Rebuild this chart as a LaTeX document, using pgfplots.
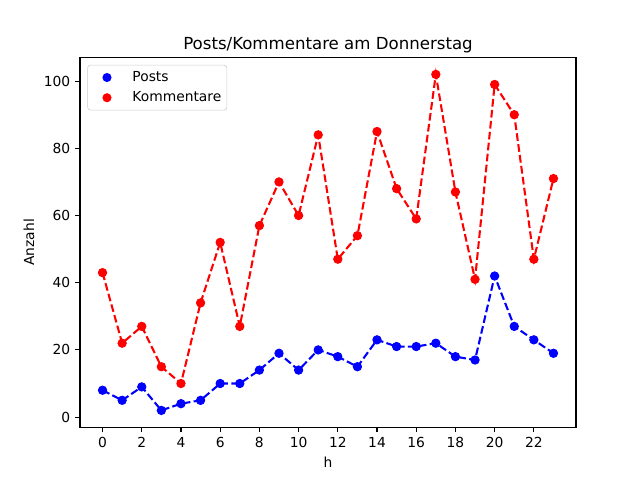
\documentclass[border=0pt]{standalone}
\usepackage{fontspec}
\setmainfont{DejaVu Sans}
\usepackage{pgfplots}
\pgfplotsset{compat=1.18}
\begin{document}
\begin{tikzpicture}
\path (0,0) rectangle (6.4in,4.8in);
\begin{axis}[at={(0.8in,0.528in)}, anchor=south west, scale only axis,
width=4.96in, height=3.696in,
xmin=-1.15, xmax=24.15, ymin=-3, ymax=107,
xtick={0,2,...,22}, ytick={0,20,...,100},
tick align=outside, major tick length=3.5pt,
tick style={black, line width=0.8pt},
axis line style={line width=0.8pt},
xtick pos=bottom, ytick pos=left,
/pgf/number format/assume math mode=true,
ticklabel style={font=\fontsize{10}{12}\selectfont},
title={Posts/Kommentare am Donnerstag},
title style={font=\fontsize{12}{14}\selectfont, yshift=-6pt},
xlabel={h}, ylabel={Anzahl},
label style={font=\fontsize{10}{12}\selectfont},
legend cell align=left,
legend style={at={(0,1)}, anchor=north west, xshift=5.3pt, yshift=-5.3pt,
  draw={rgb,1:red,0.8;green,0.8;blue,0.8}, rounded corners=2pt,
  font=\fontsize{10}{12}\selectfont, inner xsep=4pt, inner ysep=1.6pt,
  row sep=0pt, column sep=0pt,
  nodes={inner sep=0pt, minimum height=14.6pt, anchor=west}},
]
\addlegendimage{legend image code/.code={\path[draw=none] (0pt,0pt) -- (28.4pt,0pt); \fill[blue, draw=none] (10pt,0pt) circle (3.3pt);}}
\addlegendentry{Posts}
\addlegendimage{legend image code/.code={\path[draw=none] (0pt,0pt) -- (28.4pt,0pt); \fill[red, draw=none] (10pt,0pt) circle (3.3pt);}}
\addlegendentry{Kommentare}
\addplot[forget plot, blue, line width=1.5pt, dash pattern=on 5.55pt off 2.4pt, mark=*, mark size=3pt, mark options={solid, line width=0.7pt}] coordinates {
(0,8)(1,5)(2,9)(3,2)(4,4)(5,5)(6,10)(7,10)(8,14)(9,19)(10,14)(11,20)(12,18)(13,15)(14,23)(15,21)(16,21)(17,22)(18,18)(19,17)(20,42)(21,27)(22,23)(23,19)};
\addplot[forget plot, red, line width=1.5pt, dash pattern=on 5.55pt off 2.4pt, mark=*, mark size=3pt, mark options={solid, line width=0.7pt}] coordinates {
(0,43)(1,22)(2,27)(3,15)(4,10)(5,34)(6,52)(7,27)(8,57)(9,70)(10,60)(11,84)(12,47)(13,54)(14,85)(15,68)(16,59)(17,102)(18,67)(19,41)(20,99)(21,90)(22,47)(23,71)};
\end{axis}
\end{tikzpicture}
\end{document}
